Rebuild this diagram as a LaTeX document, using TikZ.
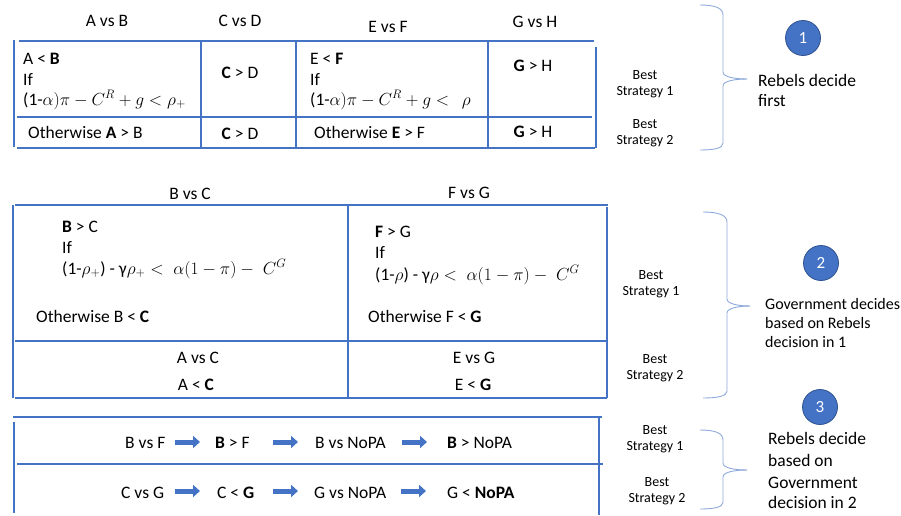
\RequirePackage{fix-cm}
\documentclass[tikz,border=0pt]{standalone}
\usepackage{fontspec}
\setmainfont{Carlito}
\usetikzlibrary{arrows.meta}
\definecolor{tblue}{HTML}{4472C4}
\definecolor{bracec}{HTML}{8FAADC}
\definecolor{circedge}{HTML}{2F528F}
\begin{document}
\begin{tikzpicture}[x=1pt,y=-1pt,
 tline/.style={draw=tblue,line width=2.8pt},
 txt/.style={inner sep=0pt,anchor=base west,font=\fontsize{17.5}{21}\selectfont},
 ctxt/.style={txt,anchor=base},
 small/.style={inner sep=0pt,anchor=base,font=\fontsize{14}{16}\selectfont},
 side/.style={inner sep=0pt,anchor=base west,font=\fontsize{17.5}{21}\selectfont},
 sideb/.style={side,font=\fontsize{16}{19}\selectfont},
 brace/.style={draw=bracec,line width=0.9pt},
 numc/.style={circle,fill=tblue,draw=circedge,line width=0.8pt,minimum size=35pt,inner sep=0pt,text=white,font=\fontsize{17}{20}\selectfont},
 barrow/.style={draw=tblue,line width=5pt,-{Triangle[length=7pt,width=12pt]}},
]
\useasboundingbox[fill=white] (0,0) rectangle (901,515);

% ---------------- Section 1 ----------------
\node[ctxt] (h1) at (107,26) {A vs B};
\node[ctxt] (h2) at (240,26) {C vs D};
\node[ctxt] (h3) at (388,32) {E vs F};
\node[ctxt] (h4) at (535,27) {G vs H};

\draw[tline] (14,40) -- (14,147);
\draw[tline] (19,41) -- (594,41);
\draw[tline] (596,47) -- (596,148);
\draw[tline] (17,148) -- (595,148);
\draw[tline] (17,117) -- (592,117);
\draw[tline] (201,42) -- (201,148);
\draw[tline] (296,42) -- (296,148);
\draw[tline] (488,42) -- (488,148);

\node[txt] (ab1) at (23,64) {A < \textbf{B}};
\node[txt] (ab2) at (23,85) {If};
\node[txt] (ab3) at (23,105) {(1-$\alpha)\pi - C^R + g < \rho_+$};
\node[ctxt] (cd1) at (240,78) {\textbf{C} > D};
\node[txt] (ab4) at (28,138) {Otherwise \textbf{A} > B};
\node[ctxt] (cd2) at (240,139) {\textbf{C} > D};

\node[txt] (ef1) at (310,64) {E < \textbf{F}};
\node[txt] (ef2) at (310,85) {If};
\node[txt] (ef3) at (310,105) {(1-$\alpha)\pi - C^R + g <\;\, \rho$};
\node[ctxt] (gh1) at (533,71) {\textbf{G} > H};
\node[txt] (ef4) at (314,138) {Otherwise \textbf{E} > F};
\node[ctxt] (gh2) at (533,137) {\textbf{G} > H};

\node[small] (s1a) at (645,79) {Best};
\node[small] (s1b) at (645,95) {Strategy 1};
\node[small] (s1c) at (645,128) {Best};
\node[small] (s1d) at (645,144) {Strategy 2};

\draw[brace] (700,5) .. controls (715,5) and (723,8) .. (723,15) -- (723,72)
  .. controls (723,77) and (735,79) .. (747,79);
\draw[brace] (747,79) .. controls (735,79) and (723,81) .. (723,86) -- (723,143)
  .. controls (723,148) and (715,150) .. (700,150);

\node[numc] (c1) at (803,38) {1};
\node[side] (r1a) at (758,86) {Rebels decide};
\node[side] (r1b) at (758,106) {first};

% ---------------- Section 2 ----------------
\node[ctxt] (h5) at (190,199) {B vs C};
\node[ctxt] (h6) at (469,198) {F vs G};

\draw[tline] (13,205) -- (13,398);
\draw[tline] (15,205) -- (608,205);
\draw[tline] (607,207) -- (607,398);
\draw[tline] (15,398) -- (607,398);
\draw[tline] (15,341) -- (607,341);
\draw[tline] (348,205) -- (348,398);

\node[txt] (bc1) at (62,232) {\textbf{B} > C};
\node[txt] (bc2) at (62,253) {If};
\node[txt] (bc3) at (62,274) {(1-$\rho_+$) - γ$\rho_+ <\; \alpha(1-\pi) -\; C^G$};
\node[txt] (bc4) at (36,322) {Otherwise B < \textbf{C}};
\node[ctxt] (ac1) at (198,363) {A vs C};
\node[ctxt] (ac2) at (196,390) {A < \textbf{C}};

\node[txt] (fg1) at (375,237) {\textbf{F} > G};
\node[txt] (fg2) at (375,258) {If};
\node[txt] (fg3) at (375,280) {(1-$\rho$) - γ$\rho <\; \alpha(1-\pi) -\; C^G$};
\node[txt] (fg4) at (368,322) {Otherwise F < \textbf{G}};
\node[ctxt] (eg1) at (474,363) {E vs G};
\node[ctxt] (eg2) at (473,390) {E < \textbf{G}};

\node[small] (s2a) at (651,279) {Best};
\node[small] (s2b) at (651,295) {Strategy 1};
\node[small] (s2c) at (655,363) {Best};
\node[small] (s2d) at (655,379) {Strategy 2};

\draw[brace] (703,212) .. controls (718,212) and (727,215) .. (727,222) -- (727,299)
  .. controls (727,304) and (739,306) .. (750,306);
\draw[brace] (750,306) .. controls (739,306) and (727,308) .. (727,313) -- (727,391)
  .. controls (727,396) and (718,398) .. (703,398);

\node[numc] (c2) at (821,263) {2};
\node[sideb] (r2a) at (765,309) {Government decides};
\node[sideb] (r2b) at (765,328) {based on Rebels};
\node[sideb] (r2c) at (765,347) {decision in 1};

% ---------------- Section 3 ----------------
\draw[tline] (13,417) -- (602,417);
\draw[tline] (14,422) -- (14,513);
\draw[tline] (17,464) -- (603,464);
\draw[tline] (599,417) -- (599,515);

\node[txt] (p1) at (125,448) {B vs F};
\node[txt] (p2) at (215,448) {\textbf{B} > F};
\node[txt] (p3) at (315,448) {B vs NoPA};
\node[txt] (p4) at (447,448) {\textbf{B} > NoPA};
\node[txt] (q1) at (121,498) {C vs G};
\node[txt] (q2) at (217,498) {C < \textbf{G}};
\node[txt] (q3) at (314,498) {G vs NoPA};
\node[txt] (q4) at (447,498) {G < \textbf{NoPA}};

\coordinate (a1s) at (175,442); \coordinate (a1e) at (200,442);
\coordinate (a2s) at (273,442); \coordinate (a2e) at (298,442);
\coordinate (a3s) at (402,442); \coordinate (a3e) at (427,442);
\coordinate (b1s) at (175,491); \coordinate (b1e) at (200,491);
\coordinate (b2s) at (273,491); \coordinate (b2e) at (298,491);
\coordinate (b3s) at (401,491); \coordinate (b3e) at (426,491);
\draw[barrow] (a1s) -- (a1e);
\draw[barrow] (a2s) -- (a2e);
\draw[barrow] (a3s) -- (a3e);
\draw[barrow] (b1s) -- (b1e);
\draw[barrow] (b2s) -- (b2e);
\draw[barrow] (b3s) -- (b3e);

\node[small] (s3a) at (655,434) {Best};
\node[small] (s3b) at (655,450) {Strategy 1};
\node[small] (s3c) at (657,486) {Best};
\node[small] (s3d) at (657,502) {Strategy 2};

\draw[brace] (700,430) .. controls (715,430) and (723,433) .. (723,440) -- (723,463)
  .. controls (723,468) and (735,470) .. (747,470);
\draw[brace] (747,470) .. controls (735,470) and (723,472) .. (723,477) -- (723,502)
  .. controls (723,507) and (715,509) .. (700,509);

\node[numc] (c3) at (820,407) {3};
\node[side] (r3a) at (768,444) {Rebels decide};
\node[side] (r3b) at (768,466) {based on};
\node[side] (r3c) at (768,488) {Government};
\node[side] (r3d) at (768,508) {decision in 2};
\end{tikzpicture}
\end{document}
